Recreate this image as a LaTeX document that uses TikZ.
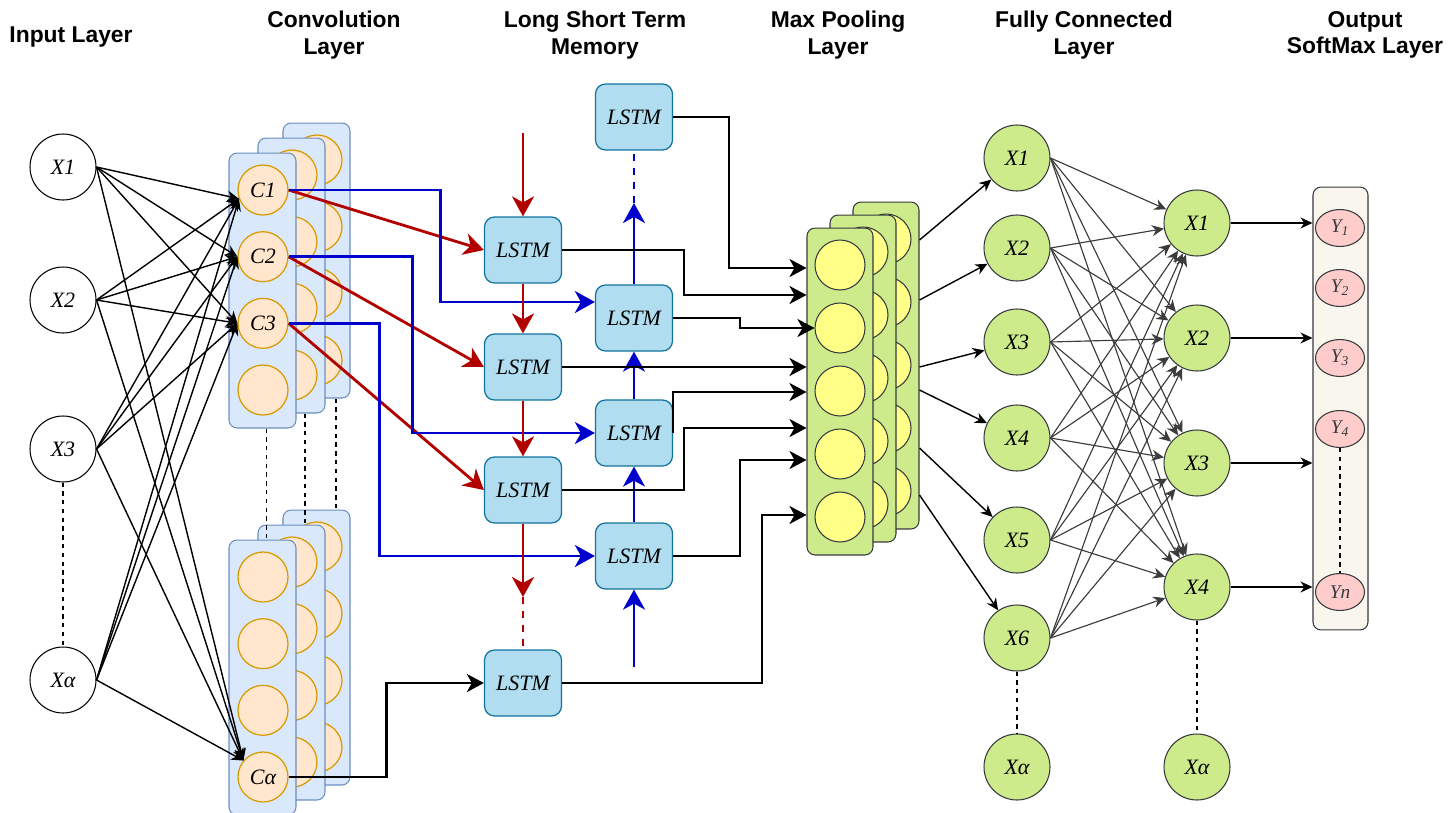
\documentclass[tikz,border=0pt]{standalone}
\usepackage{fontspec}
\setmainfont{Liberation Serif}
\setsansfont{Liberation Sans}
\usetikzlibrary{arrows.meta,shapes.geometric}
\definecolor{nnRed}{HTML}{B20000}
\definecolor{nnBlue}{HTML}{0000CC}
\definecolor{nnConvFill}{HTML}{DAE8FC}
\definecolor{nnConvLine}{HTML}{6C8EBF}
\definecolor{nnCellFill}{HTML}{FFE6CC}
\definecolor{nnCellLine}{HTML}{D79B00}
\definecolor{nnLstmFill}{HTML}{B1DDF0}
\definecolor{nnLstmLine}{HTML}{10739E}
\definecolor{nnGreen}{HTML}{CDEB8B}
\definecolor{nnYellow}{HTML}{FFFF88}
\definecolor{nnGrey}{HTML}{36393D}
\definecolor{nnWire}{HTML}{3C3C3C}
\definecolor{nnOutFill}{HTML}{F9F7ED}
\definecolor{nnPink}{HTML}{FFCCCC}

\begin{document}
\begin{tikzpicture}[x=0.02cm,y=-0.02cm,
		head/.style={font=\sffamily\bfseries\fontsize{13}{15}\selectfont,align=center},
		lbl/.style={font=\itshape\fontsize{12.5}{14}\selectfont},
		xin/.style={circle,draw,line width=0.6pt,minimum size=1.32cm,inner sep=0pt,lbl},
		convbox/.style={draw=nnConvLine,fill=nnConvFill,line width=0.6pt,rounded corners=0.16cm,minimum width=1.34cm,minimum height=5.5cm},
		cell/.style={circle,draw=nnCellLine,fill=nnCellFill,line width=0.7pt,minimum size=1cm,inner sep=0pt,lbl},
		lstm/.style={draw=nnLstmLine,fill=nnLstmFill,line width=0.7pt,rounded corners=0.2cm,minimum width=1.54cm,minimum height=1.32cm,lbl},
		poolbox/.style={draw=nnGrey,fill=nnGreen,line width=0.6pt,rounded corners=0.16cm,minimum width=1.32cm,minimum height=6.54cm},
		poolcell/.style={circle,draw=nnGrey,fill=nnYellow,line width=0.6pt,minimum size=1cm},
		fc/.style={circle,draw=nnGrey,fill=nnGreen,line width=0.6pt,minimum size=1.32cm,inner sep=0pt,lbl},
		outbox/.style={draw=nnGrey,fill=nnOutFill,line width=0.6pt,rounded corners=0.16cm,minimum width=1.1cm,minimum height=8.86cm},
		ynode/.style={ellipse,draw=nnGrey,fill=nnPink,line width=0.6pt,minimum width=0.98cm,minimum height=0.74cm,inner sep=0pt,text=nnGrey,font=\itshape\fontsize{11}{12}\selectfont},
		link/.style={line width=0.8pt,-{Stealth[length=0.24cm,width=0.22cm]}},
		fclink/.style={draw=nnWire,line width=0.65pt,-{Stealth[length=0.24cm,width=0.22cm]}},
		redlink/.style={nnRed,line width=1.6pt,-{Stealth[length=0.4cm,width=0.44cm,inset=0.12cm]}},
		bluelink/.style={nnBlue,line width=1.6pt,-{Stealth[length=0.4cm,width=0.44cm,inset=0.12cm]}},
		poollink/.style={line width=1.5pt,-{Stealth[length=0.34cm,width=0.36cm,inset=0.1cm]}},
		gap/.style={line width=0.6pt,dash pattern=on 2.5pt off 2.5pt}]
		\useasboundingbox (0,0) rectangle (1448,812);
		% headings
		\node[head] (hIn) at (71,37) {Input Layer};
		\node[head] (hConv) at (334,35) {Convolution\\Layer};
		\node[head] (hLstm) at (595,35) {Long Short Term\\Memory};
		\node[head] (hPool) at (838,35) {Max Pooling\\Layer};
		\node[head] (hFc) at (1084,35) {Fully Connected\\Layer};
		\node[head] (hOut) at (1365,35) {Output\\SoftMax Layer};
		% input layer
		\node[xin] (x1) at (63,167) {X1};
		\node[xin] (x2) at (63,300) {X2};
		\node[xin] (x3) at (63,449) {X3};
		\node[xin] (xa) at (63,680) {Xα};
		\draw[gap] (x3) -- (xa);
		% convolution sheets, back ones first
		\foreach \dx/\dy in {54/-30,29/-15}{
			\foreach \gy in {0,387}{
				\node[convbox] (sheet\dx-\gy) at (262.5+\dx,290.5+\gy+\dy) {};
				\foreach \k in {0,...,3}
					\node[cell] (cell\dx-\gy-\k) at (263+\dx,190+66.7*\k+\gy+\dy) {};
			}
		}
		\node[convbox] (convTop) at (262.5,290.5) {};
		\node[cell] (c1) at (263,190) {C1};
		\node[cell] (c2) at (263,256.7) {C2};
		\node[cell] (c3) at (263,323.3) {C3};
		\node[cell] (c4) at (263,390) {};
		\node[convbox] (convBot) at (262.5,677.5) {};
		\node[cell] (cb1) at (263,577) {};
		\node[cell] (cb2) at (263,643.7) {};
		\node[cell] (cb3) at (263,710.3) {};
		\node[cell] (ca) at (263,777) {Cα};
		\draw[gap] ([xshift=0.08cm]convTop.south) -- ([xshift=0.08cm]convBot.north);
		\draw[gap] ([xshift=0.27cm]sheet29-0.south) -- ([xshift=0.27cm]sheet29-387.north);
		\draw[gap] ([xshift=0.39cm]sheet54-0.south) -- ([xshift=0.39cm]sheet54-387.north);
		\foreach \s in {x1,x2,x3,xa}{
			\draw[link] (\s.east) -- (c1.200);
			\draw[link] (\s.east) -- (c2.west);
			\draw[link] (\s.east) -- (c3.west);
			\draw[link] (\s.east) -- (ca.140);
		}
		% lstm cells
		\node[lstm] (lb0) at (634,117) {LSTM};
		\node[lstm] (la1) at (523,250) {LSTM};
		\node[lstm] (lb1) at (634,318) {LSTM};
		\node[lstm] (la2) at (523,367) {LSTM};
		\node[lstm] (lb2) at (634,433) {LSTM};
		\node[lstm] (la3) at (523,490) {LSTM};
		\node[lstm] (lb3) at (634,556) {LSTM};
		\node[lstm] (la4) at (523,683) {LSTM};
		\coordinate (redIn) at (523,133);
		\coordinate (redGap) at (523,597);
		\coordinate (blueIn) at (634,667);
		\coordinate (blueGap) at (634,203);
		\draw[redlink] (c1.east) -- (la1.west);
		\draw[redlink] (c2.east) -- (la2.west);
		\draw[redlink] (c3.east) -- (la3.west);
		\draw[bluelink] (c1.east) -- ++(152,0) |- ([yshift=0.32cm]lb1.west);
		\draw[bluelink] (c2.east) -- ++(124,0) |- (lb2.west);
		\draw[bluelink] (c3.east) -- ++(91,0) |- (lb3.west);
		\draw[poollink] (ca.east) -- ++(98,0) |- (la4.west);
		\draw[redlink] (redIn) -- (la1);
		\draw[redlink] (la1) -- (la2);
		\draw[redlink] (la2) -- (la3);
		\draw[redlink] (la3) -- (redGap);
		\draw[nnRed,line width=1.6pt,dash pattern=on 4pt off 4pt] (redGap) -- (la4);
		\draw[bluelink] (blueIn) -- (lb3);
		\draw[bluelink] (lb3) -- (lb2);
		\draw[bluelink] (lb2) -- (lb1);
		\draw[bluelink] (lb1) -- (blueGap);
		\draw[nnBlue,line width=1.6pt,dash pattern=on 4pt off 4pt] (blueGap) -- (lb0);
		% max pooling sheets
		\foreach \dx/\dy in {46/-26,23/-13}{
			\node[poolbox] (pool\dx) at (840+\dx,391.5+\dy) {};
			\foreach \k in {0,...,4}
				\node[poolcell] (pc\dx-\k) at (840+\dx,265+63*\k+\dy) {};
		}
		\node[poolbox] (pf) at (840,391.5) {};
		\foreach \k in {1,...,5}
			\node[poolcell] (p\k) at (840,202+63*\k) {};
		\draw[poollink] (lb0.east) -- ++(56,0) |- (pf.west |- 0,268);
		\draw[poollink] (la1.east) -- ++(122,0) |- (pf.west |- 0,295);
		\draw[poollink] (lb1.east) -- ++(67,0) |- (p2.west);
		\draw[poollink] (la2.east) -- (pf.west |- la2.east);
		\draw[poollink] (lb2.east) |- (pf.west |- 0,392);
		\draw[poollink] (la3.east) -- ++(122,0) |- (pf.west |- 0,428);
		\draw[poollink] (lb3.east) -- ++(67,0) |- (pf.west |- 0,460);
		\draw[poollink] (la4.east) -- ++(200,0) |- (pf.west |- 0,515);
		% fully connected layer
		\node[fc] (f11) at (1017,158) {X1};
		\node[fc] (f12) at (1017,248) {X2};
		\node[fc] (f13) at (1017,342) {X3};
		\node[fc] (f14) at (1017,438) {X4};
		\node[fc] (f15) at (1017,540) {X5};
		\node[fc] (f16) at (1017,638) {X6};
		\node[fc] (f1a) at (1017,767) {Xα};
		\node[fc] (f21) at (1197,223) {X1};
		\node[fc] (f22) at (1197,338) {X2};
		\node[fc] (f23) at (1197,463) {X3};
		\node[fc] (f24) at (1197,587) {X4};
		\node[fc] (f2a) at (1197,767) {Xα};
		\draw[gap] (f16) -- (f1a);
		\draw[gap] (f24) -- (f2a);
		\foreach \y/\t in {240/f11,300/f12,367/f13,390/f14,448/f15,495/f16}
			\draw[link] (pool46.east |- 0,\y) -- (\t);
		\foreach \i in {1,...,6}{
			\foreach \j in {1,...,4}
				\draw[fclink] (f1\i.east) -- (f2\j);
		}
		% softmax output
		\node[outbox] (out) at (1340.5,408.5) {};
		\node[ynode] (y1) at (1340,228) {Y\textsubscript{1}};
		\node[ynode] (y2) at (1340,288) {Y\textsubscript{2}};
		\node[ynode] (y3) at (1340,358) {Y\textsubscript{3}};
		\node[ynode] (y4) at (1340,429) {Y\textsubscript{4}};
		\node[ynode] (yn) at (1340,592) {Yn};
		\draw[gap] (y4) -- (yn);
		\foreach \j in {1,...,4}
			\draw[link] (f2\j.east) -- (out.west |- f2\j.east);
	\end{tikzpicture}
\end{document}
